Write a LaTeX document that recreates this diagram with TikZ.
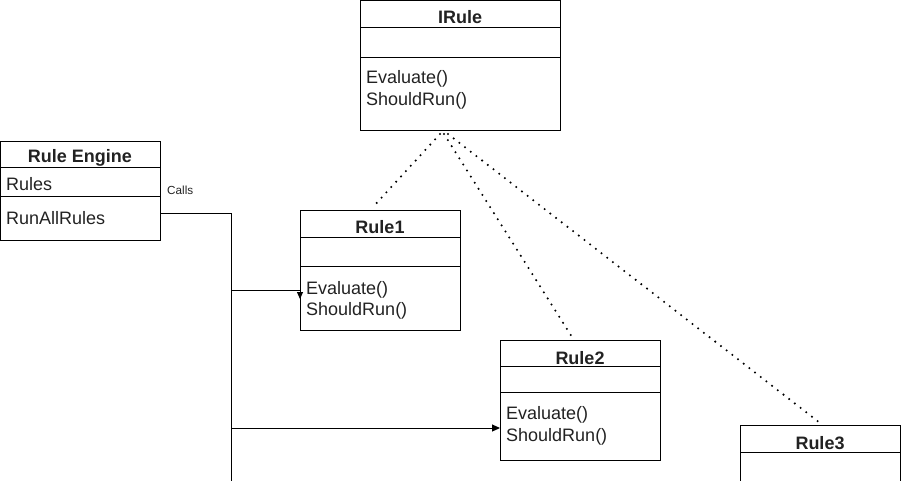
\documentclass[tikz,border=0pt]{standalone}
\usepackage{fontspec}
\setmainfont{Liberation Sans}
\usetikzlibrary{arrows.meta}
\definecolor{txt}{HTML}{222222}
\begin{document}
\begin{tikzpicture}[x=1pt,y=-1pt,
  box/.style={draw, line width=1pt, anchor=north west, inner sep=0pt, outer sep=0pt},
  ttl/.style={font=\fontsize{18}{21}\selectfont\bfseries, text=txt, inner sep=0pt},
  mem/.style={font=\fontsize{18}{21.5}\selectfont, text=txt, anchor=west, inner sep=0pt, align=left},
  sep/.style={line width=1pt},
  conn/.style={line width=1pt},
  real/.style={line width=2.3pt, dash pattern=on 0pt off 7.2pt, line cap=round}]
\useasboundingbox (0,0) rectangle (901,480);
% IRule
\node[box, minimum width=200pt, minimum height=130pt] (irule) at (360,0.5) {};
\node[ttl] (iruleT) at (460,17) {IRule};
\draw[sep] (360,27) -- (560,27);
\draw[sep] (360,57) -- (560,57);
\node[mem] (iruleM) at (366,90) {Evaluate()\\ShouldRun()};
% Rule Engine
\node[box, minimum width=160pt, minimum height=99pt] (eng) at (0.5,141) {};
\node[ttl] (engT) at (80,158) {Rule Engine};
\draw[sep] (0.5,167) -- (160.5,167);
\draw[sep] (0.5,196) -- (160.5,196);
\node[mem] (engA) at (6,184) {Rules};
\node[mem] (engM) at (6,218) {RunAllRules};
% Rule1
\node[box, minimum width=160pt, minimum height=120pt] (r1) at (300,210) {};
\node[ttl] (r1T) at (380,227) {Rule1};
\draw[sep] (300,237) -- (460,237);
\draw[sep] (300,266) -- (460,266);
\node[mem] (r1M) at (306,300.5) {Evaluate()\\ShouldRun()};
% Rule2
\node[box, minimum width=160pt, minimum height=120pt] (r2) at (500,340) {};
\node[ttl] (r2T) at (580,358) {Rule2};
\draw[sep] (500,366) -- (660,366);
\draw[sep] (500,392) -- (660,392);
\node[mem] (r2M) at (506,426) {Evaluate()\\ShouldRun()};
% Rule3
\node[box, minimum width=160pt, minimum height=80pt] (r3) at (740,425) {};
\node[ttl] (r3T) at (820,443) {Rule3};
\draw[sep] (740,452) -- (900,452);
% connectors
\coordinate (c0) at (160.5,213);
\coordinate (c1) at (231,213);
\coordinate (cend) at (231,485);
\coordinate (j1) at (231,290);
\coordinate (j2) at (231,428);
\coordinate (t1) at (300,290);
\coordinate (t1b) at (300,299);
\coordinate (t2) at (500,428);
\draw[conn] (c0) -- (c1) -- (cend);
\draw[conn] (j1) -- (t1);
\draw[conn, -{Triangle[length=7pt,width=6pt]}] (t1) -- (t1b);
\draw[conn, -{Triangle[length=8pt,width=7pt]}] (j2) -- (t2);
\node[font=\fontsize{11.7}{13}\selectfont, text=txt, anchor=west, inner sep=0pt] (calls) at (167,190) {Calls};
% realization
\coordinate (s1) at (440,134);
\coordinate (s2) at (444,134);
\coordinate (s3) at (448,134);
\draw[real] (s1) -- (372,208);
\draw[real] (s2) -- (572,337);
\draw[real] (s3) -- (820,423);
\end{tikzpicture}
\end{document}
